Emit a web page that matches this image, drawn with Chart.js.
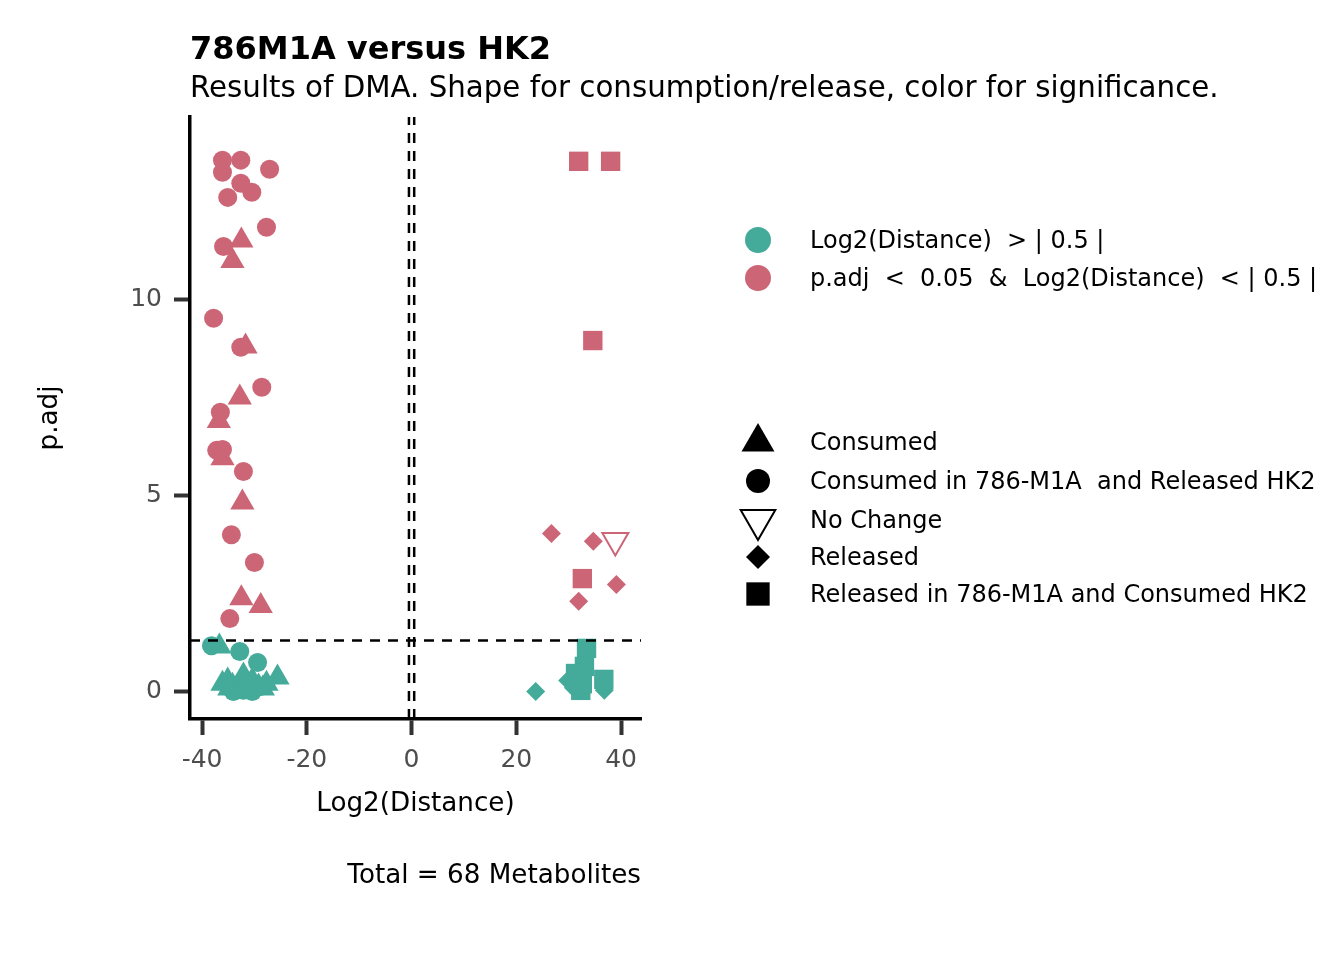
<!DOCTYPE html>
<html>
<head>
<meta charset="utf-8">
<script src="https://cdn.jsdelivr.net/npm/chart.js@4.4.0/dist/chart.umd.min.js"></script>
<style>
  html, body { margin: 0; padding: 0; background: #fff; }
  #wrap { width: 1344px; height: 960px; position: relative; }
</style>
</head>
<body>
<div id="wrap"><canvas id="dmaChart"></canvas></div>
<script>
// significant metabolites (pink), per shape
const sigCircleX = [-36.1, -32.6, -36.1, -27.1, -32.6, -30.5, -35.1, -27.7, -35.9, -37.8, -32.6, -28.6, -36.5, -37.2, -36.1, -32.1, -34.4, -30.0, -34.7];
const sigCircleY = [13.55, 13.55, 13.24, 13.32, 12.96, 12.73, 12.60, 11.84, 11.35, 9.52, 8.78, 7.76, 7.12, 6.15, 6.17, 5.61, 4.00, 3.29, 1.86];
const sigTriangleX = [-32.5, -34.2, -31.7, -32.8, -36.8, -36.1, -32.3, -32.5, -28.8];
const sigTriangleY = [11.50, 10.98, 8.80, 7.50, 6.90, 5.95, 4.82, 2.38, 2.18];
const sigSquareX = [31.9, 38.0, 34.6, 32.6];
const sigSquareY = [13.52, 13.52, 8.95, 2.88];
const sigDiamondX = [26.7, 34.7, 39.1, 31.9];
const sigDiamondY = [4.03, 3.83, 2.73, 2.30];
const sigNoChangeX = [38.9];
const sigNoChangeY = [3.85];

// the other ones (teal)
const nsCircleX = [-38.2, -32.8, -29.4, -34.0, -32.1, -30.4, -28.8];
const nsCircleY = [1.17, 1.02, 0.74, 0.00, 0.03, 0.00, 0.13];
const nsTriangleX = [-36.7, -35.1, -34.2, -32.1, -33.4, -31.1, -29.2, -27.7, -25.6, -36.1, -34.8, -28.4, -30.4, -32.7];
const nsTriangleY = [1.15, 0.28, 0.15, 0.41, 0.08, 0.10, 0.13, 0.20, 0.36, 0.20, 0.08, 0.08, 0.28, 0.03];
const nsSquareX = [33.4, 33.0, 31.3, 36.7, 32.3, 32.6];
const nsSquareY = [1.10, 0.64, 0.46, 0.31, 0.03, 0.20];
const nsDiamondX = [23.7, 29.8, 36.8, 30.9];
const nsDiamondY = [0.00, 0.28, 0.03, 0.10];

const xTicks = [-40, -20, 0, 20, 40];
const yTicks = [0, 5, 10];
const xRange = [-42.3, 43.8];
const yRange = [-0.7, 14.65];
const pThreshold = 1.3;
const distThreshold = 0.5;

const colorLabels = ['Log2(Distance)  > | 0.5 |', 'p.adj  <  0.05  &  Log2(Distance)  < | 0.5 |'];
const shapeLabels = ['Consumed', 'Consumed in 786-M1A  and Released HK2', 'No Change', 'Released', 'Released in 786-M1A and Consumed HK2'];

const teal = '#44AA99';
const pink = '#CC6677';
const font = '"DejaVu Sans", sans-serif';

function pts(xs, ys) {
  return xs.map((x, i) => ({ x: x, y: ys[i] }));
}

function shapeSet(xs, ys, style, radius, color, rotation) {
  return {
    data: pts(xs, ys),
    pointStyle: style,
    pointRadius: radius,
    pointRotation: rotation || 0,
    backgroundColor: color,
    borderColor: color,
    borderWidth: 0,
    order: 2,
    clip: false
  };
}

function refLine(points) {
  return {
    type: 'line',
    data: points,
    showLine: true,
    borderColor: '#000',
    borderWidth: 2.5,
    borderDash: [10, 8],
    pointRadius: 0,
    order: 0,
    clip: false
  };
}

const noChange = shapeSet(sigNoChangeX, sigNoChangeY, 'triangle', 15, 'rgba(0,0,0,0)', 180);
noChange.borderColor = pink;
noChange.borderWidth = 2;

const datasets = [
  refLine([{ x: xRange[0], y: pThreshold }, { x: xRange[1], y: pThreshold }]),
  refLine([{ x: -distThreshold, y: yRange[0] }, { x: -distThreshold, y: yRange[1] }]),
  refLine([{ x: distThreshold, y: yRange[0] }, { x: distThreshold, y: yRange[1] }]),
  shapeSet(nsCircleX, nsCircleY, 'circle', 9.5, teal),
  shapeSet(nsTriangleX, nsTriangleY, 'triangle', 14, teal),
  shapeSet(nsSquareX, nsSquareY, 'rect', 13.7, teal),
  shapeSet(nsDiamondX, nsDiamondY, 'rectRot', 9.5, teal),
  shapeSet(sigCircleX, sigCircleY, 'circle', 9.5, pink),
  shapeSet(sigTriangleX, sigTriangleY, 'triangle', 14, pink),
  shapeSet(sigSquareX, sigSquareY, 'rect', 13.7, pink),
  shapeSet(sigDiamondX, sigDiamondY, 'rectRot', 9.5, pink),
  noChange
];

// titles, axis titles, caption and the two legends
const textPlugin = {
  id: 'dmaText',
  afterDraw(chart) {
    const ctx = chart.ctx;
    const area = chart.chartArea;
    const draw = Chart.helpers.drawPoint;
    ctx.save();
    ctx.fillStyle = '#000';
    ctx.textBaseline = 'middle';
    ctx.textAlign = 'left';
    ctx.font = 'bold 32px ' + font;
    ctx.fillText('786M1A versus HK2', area.left, 51);
    ctx.font = '29.3px ' + font;
    ctx.fillText('Results of DMA. Shape for consumption/release, color for significance.', area.left, 89);

    ctx.font = '26.2px ' + font;
    ctx.textAlign = 'center';
    ctx.fillText('Log2(Distance)', (area.left + area.right) / 2, 804);
    ctx.textAlign = 'right';
    ctx.fillText('Total = 68 Metabolites', area.right, 876);

    ctx.save();
    ctx.translate(50, (area.top + area.bottom) / 2);
    ctx.rotate(-Math.PI / 2);
    ctx.textAlign = 'center';
    ctx.fillText('p.adj', 0, 0);
    ctx.restore();

    // colour legend
    ctx.textAlign = 'left';
    ctx.font = '24px ' + font;
    [teal, pink].forEach((c, i) => {
      const y = 240 + i * 38;
      ctx.fillStyle = c;
      draw(ctx, { pointStyle: 'circle', radius: 13, rotation: 0, borderWidth: 0 }, 758, y);
      ctx.fillStyle = '#000';
      ctx.fillText(colorLabels[i], 810, y + 2);
    });

    // shape legend
    const shapes = [
      { pointStyle: 'triangle', radius: 19, rotation: 0, borderWidth: 0 },
      { pointStyle: 'circle', radius: 12, rotation: 0, borderWidth: 0 },
      { pointStyle: 'triangle', radius: 20, rotation: 180, borderWidth: 2 },
      { pointStyle: 'rectRot', radius: 12, rotation: 0, borderWidth: 0 },
      { pointStyle: 'rect', radius: 16.5, rotation: 0, borderWidth: 0 }
    ];
    const shapeY = [442, 481, 520, 557, 594];
    shapes.forEach((s, i) => {
      ctx.fillStyle = s.borderWidth ? 'rgba(0,0,0,0)' : '#000';
      ctx.strokeStyle = '#000';
      ctx.lineWidth = 2;
      draw(ctx, s, 758, shapeY[i]);
      ctx.fillStyle = '#000';
      ctx.fillText(shapeLabels[i], 810, shapeY[i] + 2);
    });
    ctx.restore();
  }
};

const ctx = document.getElementById('dmaChart').getContext('2d');
const dmaChart = new Chart(ctx, {
  type: 'scatter',
  data: { datasets: datasets },
  options: {
    responsive: true,
    maintainAspectRatio: false,
    animation: false,
    layout: { padding: { left: 0, top: 117, right: 703, bottom: 0 } },
    plugins: { legend: { display: false }, tooltip: { enabled: false } },
    scales: {
      x: {
        type: 'linear',
        min: xRange[0],
        max: xRange[1],
        afterFit: s => { s.height = 241; },
        afterBuildTicks: s => { s.ticks = xTicks.map(v => ({ value: v })); },
        grid: { drawOnChartArea: false, drawTicks: true, tickLength: 16, tickWidth: 4, tickColor: '#333333' },
        border: { display: true, color: '#000', width: 3.5 },
        ticks: { color: '#4D4D4D', padding: 10, font: { family: 'DejaVu Sans', size: 25 } }
      },
      y: {
        type: 'linear',
        min: yRange[0],
        max: yRange[1],
        afterFit: s => { s.width = 190; },
        afterBuildTicks: s => { s.ticks = yTicks.map(v => ({ value: v })); },
        grid: { drawOnChartArea: false, drawTicks: true, tickLength: 16, tickWidth: 4, tickColor: '#333333' },
        border: { display: true, color: '#000', width: 3.5 },
        ticks: { color: '#4D4D4D', padding: 12, font: { family: 'DejaVu Sans', size: 25 } }
      }
    }
  },
  plugins: [textPlugin]
});
</script>
</body>
</html>
